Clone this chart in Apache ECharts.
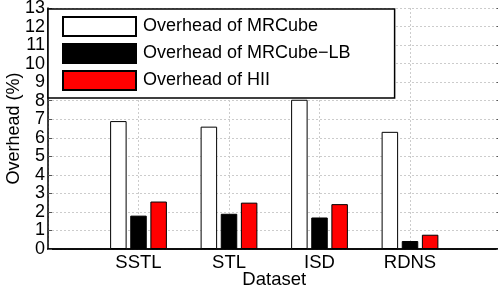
<!DOCTYPE html>
<html>
<head>
<meta charset="utf-8">
<script src="https://cdn.jsdelivr.net/npm/echarts@6/dist/echarts.min.js"></script>
<style>
html, body { margin: 0; padding: 0; background: #fff; }
#chart { width: 498px; height: 286px; }
</style>
</head>
<body>
<div id="chart"></div>
<script>
var datasets = ['SSTL', 'STL', 'ISD', 'RDNS'];
var overheadMRCube = [6.9, 6.6, 8.05, 6.32];
var overheadMRCubeLB = [1.8, 1.9, 1.7, 0.43];
var overheadHII = [2.56, 2.5, 2.42, 0.77];
var seriesNames = ['Overhead of MRCube', 'Overhead of MRCube\u2212LB', 'Overhead of HII'];

// empty slots on both ends so the categories sit like the original matlab axis
var xCats = [''].concat(datasets, ['']);
function pad(arr) {
	return [null].concat(arr, [null]);
}

var font = 'Liberation Sans, Arial, Helvetica, sans-serif';
var chart = echarts.init(document.getElementById('chart'));

function barSeries(name, data, color) {
	return {
		name: name,
		type: 'bar',
		data: pad(data),
		barWidth: 16.5,
		barGap: '22%',
		itemStyle: {
			color: color,
			borderColor: '#000',
			borderWidth: 1
		}
	};
}

var option = {
	animation: false,
	grid: {
		left: 48,
		right: -2.5,
		top: 8,
		bottom: 37,
		outerBoundsMode: 'none',
		containLabel: false
	},
	legend: {
		orient: 'vertical',
		left: 48,
		top: 9,
		padding: [7, 44, 7, 14],
		itemWidth: 73,
		itemHeight: 19,
		itemGap: 6,
		icon: 'rect',
		backgroundColor: '#fff',
		borderColor: '#000',
		borderWidth: 1.5,
		textStyle: {
			fontFamily: font,
			fontSize: 18,
			color: '#000',
			padding: [0, 0, 0, 2]
		},
		data: seriesNames
	},
	xAxis: [{
		type: 'category',
		data: xCats,
		boundaryGap: false,
		name: 'Dataset',
		nameLocation: 'middle',
		nameGap: 21,
		nameMoveOverlap: false,
		nameTextStyle: { fontFamily: font, fontSize: 18.5, color: '#000' },
		axisLine: { lineStyle: { color: '#000', width: 1.5 } },
		axisTick: { show: false },
		axisLabel: { fontFamily: font, fontSize: 18.5, color: '#000', margin: 4, interval: 0 },
		splitLine: { show: true, lineStyle: { color: '#ccc', type: [2, 2], width: 1 } }
	}, {
		type: 'category',
		data: xCats,
		boundaryGap: false,
		position: 'top',
		axisLine: { lineStyle: { color: '#000', width: 1.5 } },
		axisTick: { show: false },
		axisLabel: { show: false },
		splitLine: { show: false }
	}],
	yAxis: [{
		type: 'value',
		min: 0,
		max: 13,
		interval: 1,
		name: 'Overhead (%)',
		nameLocation: 'middle',
		nameGap: 25,
		nameMoveOverlap: false,
		nameTextStyle: { fontFamily: font, fontSize: 18, color: '#000' },
		axisLine: { show: true, lineStyle: { color: '#000', width: 1.5 } },
		axisTick: { show: true, inside: true, length: 4, lineStyle: { color: '#555' } },
		axisLabel: { fontFamily: font, fontSize: 18, color: '#000', margin: 3, showMinLabel: true, showMaxLabel: true, hideOverlap: false },
		splitLine: { show: true, lineStyle: { color: '#ccc', type: [2, 2], width: 1 } }
	}, {
		type: 'value',
		min: 0,
		max: 13,
		interval: 1,
		position: 'right',
		axisLine: { show: true, lineStyle: { color: '#000', width: 1.5 } },
		axisTick: { show: true, inside: true, length: 4, lineStyle: { color: '#555' } },
		axisLabel: { show: false },
		splitLine: { show: false }
	}],
	series: [
		barSeries(seriesNames[0], overheadMRCube, '#fff'),
		barSeries(seriesNames[1], overheadMRCubeLB, '#000'),
		barSeries(seriesNames[2], overheadHII, '#f00')
	]
};

chart.setOption(option);
</script>
</body>
</html>
